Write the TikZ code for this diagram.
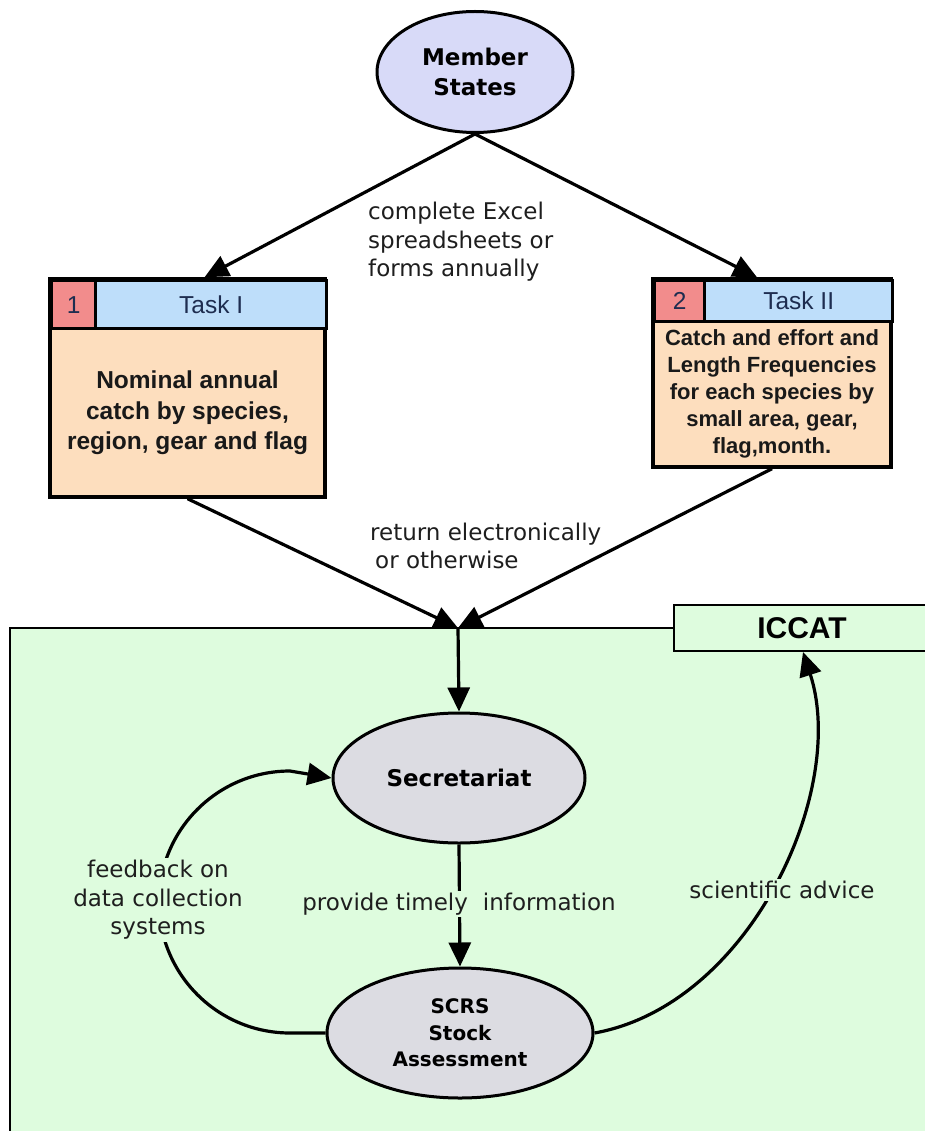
\documentclass[tikz,border=0pt]{standalone}
\usepackage{fontspec}
\setmainfont{Liberation Sans}
\newfontfamily\lblfont{DejaVu Sans}
\usetikzlibrary{arrows.meta,shapes.geometric,calc}
\definecolor{lavender}{RGB}{216,218,248}
\definecolor{taskblue}{RGB}{190,222,250}
\definecolor{redcell}{RGB}{242,140,140}
\definecolor{peach}{RGB}{253,222,190}
\definecolor{greenbg}{RGB}{222,252,222}
\definecolor{grayell}{RGB}{220,220,226}
\definecolor{navy}{RGB}{30,45,80}
\definecolor{lblgray}{RGB}{30,30,30}
\begin{document}
\begin{tikzpicture}[x=1pt,y=1pt,
  conn/.style={line width=3.2pt},
  arr/.style={line width=3.2pt,-{Triangle[length=24pt,width=22pt]}},
  ell/.style={ellipse, draw, line width=3pt, inner sep=0pt, align=center},
  boxline/.style={draw, line width=3.4pt, inner sep=0pt},
  lbl/.style={font=\lblfont\fontsize{23}{28.5}\selectfont, text=lblgray, inner sep=2pt},
  hdr/.style={font=\fontsize{24.5}{28}\selectfont, text=navy},
]
\useasboundingbox (0,0) rectangle (924,-1131);
\fill[white] (0,0) rectangle (924,-1131);

% green ICCAT region
\fill[greenbg] (10,-628) rectangle (930,-1140);
\node[draw, line width=2pt, fill=greenbg, minimum width=252, minimum height=46,
      inner sep=0pt, font=\bfseries\fontsize{30}{36}\selectfont] (iccat) at (800,-628) {\hspace{4pt}ICCAT};
\draw[line width=2pt] (10,-1140) -- (10,-628) -- (iccat.west);

% Member States
\node[ell, fill=lavender, minimum width=196, minimum height=121,
      font=\lblfont\bfseries\fontsize{23}{30}\selectfont] (ms) at (475,-72) {Member\\States};

% Task I
\node[boxline, fill=peach, minimum width=275, minimum height=218] (t1) at (187.5,-388) {};
\node[boxline, fill=redcell, minimum width=44, minimum height=48, anchor=north west, hdr] (t1n) at (50,-279) {1};
\node[boxline, fill=taskblue, minimum width=231, minimum height=48, anchor=north west, hdr] (t1h) at (94,-279) {Task I};
\node[font=\bfseries\fontsize{24.5}{30.5}\selectfont, align=center, text=black!90] (t1b) at (187.5,-413)
  {Nominal annual\\catch by species,\\region, gear and flag};

% Task II
\node[boxline, fill=peach, minimum width=238, minimum height=188] (t2) at (772,-373) {};
\node[boxline, fill=redcell, minimum width=50, minimum height=41, anchor=north west, hdr] (t2n) at (653,-279) {2};
\node[boxline, fill=taskblue, minimum width=188, minimum height=41, anchor=north west, hdr] (t2h) at (703,-279) {Task II};
\node[font=\bfseries\fontsize{22}{27}\selectfont, align=center, text=black!90] (t2b) at (772,-394)
  {Catch and effort and\\Length Frequencies\\for each species by\\small area, gear,\\flag,month.};

% Secretariat and SCRS
\node[ell, fill=grayell, minimum width=252, minimum height=130,
      font=\lblfont\bfseries\fontsize{23}{30}\selectfont] (sec) at (459,-778) {Secretariat};
\node[ell, fill=grayell, minimum width=266, minimum height=130,
      font=\lblfont\bfseries\fontsize{20}{26.7}\selectfont] (scrs) at (460,-1033) {SCRS\\Stock\\Assessment};

\coordinate (join) at (458,-628);

% connectors
\draw[arr] (ms.south) -- ([xshift=17pt]t1.north);
\draw[arr] (ms.south) -- ([xshift=-15pt]t2.north);
\draw[arr] (t1.south) -- (join);
\draw[arr] (t2.south) -- (join);
\draw[arr] (join) -- (sec.north);
\draw[arr] (sec.south) -- (scrs.north);
\draw[arr] (scrs.west) -- (290,-1033) arc[start angle=-90, end angle=-270, radius=131] -- (sec.west);
\draw[arr] (scrs.east) .. controls (750,-1005) and (848,-790) .. ([xshift=3pt]iccat.south);

% labels
\node[lbl, anchor=west, align=left] (lab1) at (366,-242)
  {complete Excel\\spreadsheets or\\forms annually};
\node[lbl, anchor=west, align=left] (lab2) at (368,-546)
  {return electronically\\\hspace*{5pt}or otherwise};
\node[lbl, fill=greenbg, align=center] (lab3) at (459,-904)
  {provide timely\hspace{15pt}information};
\node[lbl, fill=greenbg, align=center] (lab4) at (158,-900)
  {feedback on\\data collection\\systems};
\node[lbl, fill=greenbg, align=center] (lab5) at (782,-890)
  {scientific advice};
\end{tikzpicture}
\end{document}
